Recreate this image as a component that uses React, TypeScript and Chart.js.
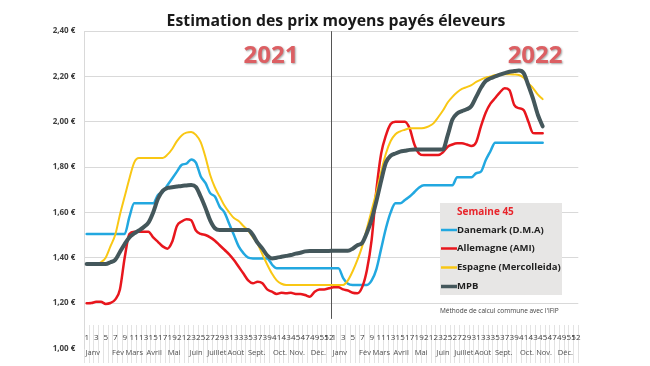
import React, { useEffect, useRef } from 'react';
import { Chart, registerables } from 'chart.js';

Chart.register(...registerables);

// ---------- DATA ----------
const weekNumbers = ['1','2','3','4','5','6','7','8','9','10','11','12','13','14','15','16','17','18','19','20','21','22','23','24','25','26','27','28','29','30','31','32','33','34','35','36','37','38','39','40','41','42','43','44','45','46','47','48','49','50','51','52'];
const categories = [...weekNumbers, ...weekNumbers]; // 2021 then 2022

const danemark2021 = [1.505,1.505,1.505,1.505,1.505,1.505,1.505,1.505,1.505,1.58,
  1.64,1.64,1.64,1.64,1.64,1.677,1.69,1.72,1.75,1.78,
  1.81,1.815,1.834,1.82,1.76,1.73,1.685,1.67,1.625,1.60,
  1.55,1.50,1.45,1.42,1.40,1.397,1.397,1.397,1.397,1.37,
  1.353,1.353,1.353,1.353,1.353,1.353,1.353,1.353,1.353,1.353,
  1.353,1.353];
const danemark2022 = [1.353,1.353,1.31,1.285,1.28,1.28,1.28,1.28,1.30,1.35,
  1.44,1.53,1.60,1.64,1.64,1.655,1.67,1.69,1.71,1.72,
  1.72,1.72,1.72,1.72,1.72,1.72,1.755,1.755,1.755,1.755,
  1.773,1.78,1.83,1.87,1.908,1.908,1.908,1.908,1.908,1.908,
  1.908,1.908,1.908,1.908,1.908];

const allemagne2021 = [1.199,1.20,1.205,1.205,1.196,1.20,1.215,1.26,1.40,1.505,
  1.515,1.515,1.515,1.515,1.49,1.47,1.45,1.44,1.47,1.54,
  1.56,1.57,1.565,1.52,1.505,1.50,1.49,1.475,1.455,1.435,
  1.415,1.39,1.36,1.33,1.30,1.287,1.294,1.287,1.26,1.25,
  1.24,1.245,1.243,1.245,1.24,1.24,1.235,1.228,1.25,1.26,
  1.26,1.265];
const allemagne2022 = [1.269,1.269,1.26,1.255,1.245,1.243,1.27,1.346,1.48,1.70,
  1.86,1.94,1.99,2.0,2.0,2.0,1.97,1.90,1.86,1.853,
  1.853,1.853,1.853,1.865,1.89,1.90,1.905,1.905,1.90,1.893,
  1.91,1.98,2.04,2.08,2.105,2.13,2.148,2.14,2.075,2.06,
  2.052,2.0,1.95,1.949,1.949];

const espagne2021 = [1.372,1.372,1.372,1.38,1.40,1.45,1.50,1.59,1.67,1.75,
  1.82,1.84,1.84,1.84,1.84,1.84,1.84,1.855,1.88,1.915,
  1.94,1.952,1.955,1.942,1.91,1.845,1.765,1.71,1.67,1.63,
  1.60,1.575,1.562,1.54,1.52,1.49,1.46,1.415,1.37,1.33,
  1.30,1.285,1.28,1.28,1.28,1.28,1.28,1.28,1.28,1.28,
  1.28,1.28];
const espagne2022 = [1.28,1.28,1.28,1.30,1.34,1.39,1.45,1.53,1.61,1.69,
  1.78,1.86,1.915,1.945,1.958,1.965,1.971,1.971,1.971,1.973,
  1.98,1.993,2.02,2.05,2.085,2.11,2.13,2.145,2.153,2.162,
  2.176,2.186,2.195,2.20,2.207,2.208,2.21,2.21,2.209,2.207,
  2.195,2.17,2.148,2.12,2.10];

const mpb2021 = [1.372,1.372,1.372,1.372,1.372,1.38,1.39,1.425,1.46,1.49,
  1.507,1.52,1.535,1.555,1.60,1.66,1.695,1.708,1.711,1.714,
  1.717,1.719,1.721,1.712,1.67,1.62,1.565,1.53,1.522,1.522,
  1.522,1.522,1.522,1.522,1.522,1.50,1.465,1.44,1.41,1.397,
  1.40,1.404,1.408,1.412,1.418,1.422,1.428,1.43,1.43,1.43,
  1.43,1.43];
const mpb2022 = [1.431,1.431,1.431,1.431,1.44,1.455,1.465,1.51,1.57,1.65,
  1.74,1.82,1.85,1.86,1.868,1.872,1.876,1.878,1.878,1.878,
  1.878,1.878,1.878,1.878,1.94,2.01,2.037,2.047,2.055,2.07,
  2.11,2.15,2.18,2.192,2.20,2.208,2.215,2.221,2.224,2.226,
  2.215,2.16,2.10,2.03,1.98];

const seriesNames = ['Danemark (D.M.A)', 'Allemagne (AMI)', 'Espagne (Mercolleida)', 'MPB'];
const seriesColors = ['#22a8e0', '#e8161d', '#f9c714', '#44575b'];
const seriesWidths = [2.5, 2.5, 2, 4];

const monthNames = ['Janv', 'Fév', 'Mars', 'Avril', 'Mai', 'Juin', 'Juillet', 'Août', 'Sept.', 'Oct.', 'Nov.', 'Déc.'];
const monthCenters = [1.3, 6.6, 10.0, 14.2, 18.4, 23.0, 27.4, 31.4, 35.8, 40.7, 44.3, 48.8];
const yTickValues = [1.0, 1.2, 1.4, 1.6, 1.8, 2.0, 2.2, 2.4];

const chartTitle = 'Estimation des prix moyens payés éleveurs';
const yearLabels = ['2021', '2022'];
const legendTitle = 'Semaine 45';
const sourceNote = "Méthode de calcul commune avec l'IFIP";

const FONT = '"Open Sans", "DejaVu Sans", sans-serif';

const monthTickValues = [...monthCenters, ...monthCenters.map((c) => c + 52)];
const monthTickLabels = [...monthNames, ...monthNames];

const overlayPlugin = {
  id: 'overlay',
  beforeDatasetsDraw(chart: any) {
    const { ctx, scales } = chart;
    const x = scales.x;
    const y = scales.y;
    const xd = (x.getPixelForValue(51) + x.getPixelForValue(52)) / 2;
    ctx.save();
    ctx.strokeStyle = '#555555';
    ctx.lineWidth = 1;
    ctx.beginPath();
    ctx.moveTo(Math.round(xd) + 0.5, y.getPixelForValue(2.4));
    ctx.lineTo(Math.round(xd) + 0.5, y.getPixelForValue(1.13));
    ctx.stroke();
    ctx.restore();
  },
  afterDraw(chart: any) {
    const { ctx, scales } = chart;
    const x = scales.x;
    ctx.save();
    // title
    ctx.fillStyle = '#1a1a1a';
    ctx.font = `bold 15.8px ${FONT}`;
    ctx.textAlign = 'center';
    ctx.textBaseline = 'alphabetic';
    ctx.fillText(chartTitle, 336, 26);
    // year labels
    ctx.font = `bold 24px ${FONT}`;
    ctx.fillStyle = '#dc5f63';
    ctx.shadowColor = 'rgba(0,0,0,0.35)';
    ctx.shadowOffsetX = 1;
    ctx.shadowOffsetY = 1;
    ctx.shadowBlur = 2;
    ctx.fillText(yearLabels[0], x.getPixelForValue(38.8), 63);
    ctx.fillText(yearLabels[1], x.getPixelForValue(94.4), 63);
    ctx.shadowColor = 'transparent';
    ctx.shadowBlur = 0;
    ctx.shadowOffsetX = 0;
    ctx.shadowOffsetY = 0;
    // legend box
    ctx.fillStyle = '#e7e6e5';
    ctx.fillRect(440, 203, 122, 92);
    ctx.textAlign = 'left';
    ctx.textBaseline = 'middle';
    ctx.font = `bold 10px ${FONT}`;
    ctx.fillStyle = '#e8242b';
    ctx.fillText(legendTitle, 457, 212);
    const rows = [230, 248.5, 267.5, 286.5];
    ctx.font = `bold 9.5px ${FONT}`;
    seriesNames.forEach((name, i) => {
      ctx.strokeStyle = seriesColors[i];
      ctx.lineWidth = i === 3 ? 3.5 : 2.5;
      ctx.beginPath();
      ctx.moveTo(441, rows[i]);
      ctx.lineTo(457, rows[i]);
      ctx.stroke();
      ctx.fillStyle = '#1f1f1f';
      ctx.fillText(name, 457, rows[i]);
    });
    // note
    ctx.font = `6.5px ${FONT}`;
    ctx.fillStyle = '#404040';
    ctx.fillText(sourceNote, 440, 311.5);
    ctx.restore();
  },
};

export default function App() {
  const canvasRef = useRef<HTMLCanvasElement | null>(null);

  useEffect(() => {
    if (!canvasRef.current) return;
    const seriesData = [
      [...danemark2021, ...danemark2022],
      [...allemagne2021, ...allemagne2022],
      [...espagne2021, ...espagne2022],
      [...mpb2021, ...mpb2022],
    ];
    const drawOrder = [3, 2, 1, 0];
    const chart = new Chart(canvasRef.current, {
      type: 'line',
      data: {
        labels: categories,
        datasets: seriesNames.map((name, i) => ({
          label: name,
          data: seriesData[i],
          borderColor: seriesColors[i],
          backgroundColor: seriesColors[i],
          borderWidth: seriesWidths[i],
          pointRadius: 0,
          tension: 0,
          cubicInterpolationMode: 'monotone' as const,
          fill: false,
          order: drawOrder[i],
        })),
      },
      options: {
        responsive: true,
        maintainAspectRatio: false,
        animation: false,
        layout: { padding: { left: 0, right: 71.7, top: 31.2, bottom: 17.7 } },
        plugins: {
          legend: { display: false },
          title: { display: false },
          tooltip: { enabled: false },
        },
        elements: {
          line: { borderCapStyle: 'round', borderJoinStyle: 'round' },
          point: { radius: 0 },
        },
        scales: {
          x: {
            type: 'category',
            position: { y: 1.103 } as any,
            offset: true,
            grid: { drawOnChartArea: false, drawTicks: true, tickLength: 38, color: '#e3e3e3', offset: true },
            border: { display: false },
            ticks: {
              autoSkip: false,
              maxRotation: 0,
              minRotation: 0,
              padding: -30,
              color: '#404040',
              font: { family: FONT, size: 8 },
              callback: (_v: any, index: number) => {
                const w = categories[index];
                return Number(w) % 2 === 1 || w === '52' ? w : '';
              },
            },
          },
          xm: {
            type: 'linear',
            axis: 'x',
            position: { y: 1.103 } as any,
            min: -0.5,
            max: 103.5,
            grid: { display: false, drawTicks: false },
            border: { display: false },
            afterBuildTicks: (scale: any) => {
              scale.ticks = monthTickValues.map((v) => ({ value: v }));
            },
            ticks: {
              autoSkip: false,
              maxRotation: 0,
              minRotation: 0,
              padding: 23,
              color: '#505050',
              font: { family: FONT, size: 7.5 },
              callback: (_v: any, index: number) => monthTickLabels[index],
            },
          },
          y: {
            min: 1.0,
            max: 2.4,
            afterBuildTicks: (scale: any) => {
              scale.ticks = yTickValues.map((v) => ({ value: v }));
            },
            afterFit: (scale: any) => {
              scale.width = 84.3;
            },
            grid: {
              drawTicks: false,
              color: (c: any) => (c.tick && c.tick.value <= 1.001 ? 'rgba(0,0,0,0)' : '#d9d9d9'),
            },
            border: { color: '#d9d9d9' },
            ticks: {
              padding: 9,
              color: '#404040',
              font: { family: FONT, size: 8, weight: 'bold' },
              callback: (v: any) => Number(v).toFixed(2).replace('.', ',') + ' €',
            },
          },
        },
      },
      plugins: [overlayPlugin],
    } as any);
    return () => chart.destroy();
  }, []);

  return (
    <div style={{ position: 'fixed', left: 0, top: 0, width: 650, height: 366, background: '#ffffff' }}>
      <canvas ref={canvasRef} />
    </div>
  );
}
